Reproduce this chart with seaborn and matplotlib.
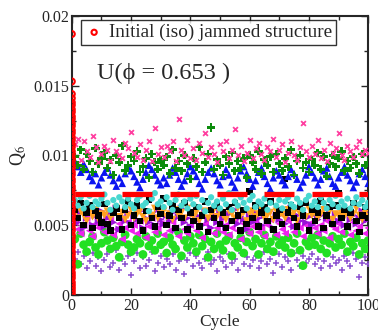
import numpy as np
import seaborn as sns
import matplotlib
matplotlib.use('Agg')
import matplotlib.pyplot as plt
from matplotlib.ticker import MultipleLocator

# Q6 values in units of 1e-4, one per cycle (1..100)
pink_x = [108, 112, 97, 110, 103, 99, 114, 106, 95, 101,
          107, 104, 96, 111, 103, 100, 98, 109, 105, 117,
          102, 99, 108, 97, 104, 110, 96, 120, 101, 106,
          99, 107, 103, 110, 96, 126, 104, 100, 111, 98,
          105, 97, 109, 102, 116, 99, 106, 101, 95, 108,
          103, 110, 98, 104, 119, 100, 107, 96, 102, 111,
          98, 105, 109, 101, 97, 106, 103, 112, 99, 104,
          108, 95, 102, 110, 100, 97, 106, 123, 103, 99,
          107, 101, 111, 98, 104, 96, 109, 102, 105, 116,
          100, 97, 107, 103, 99, 106, 110, 101, 104, 102]
green_p = [99, 93, 104, 90, 101, 96, 88, 105, 94, 98,
           102, 91, 97, 86, 100, 95, 107, 89, 93, 99,
           96, 103, 88, 92, 98, 84, 101, 95, 90, 97,
           93, 99, 87, 104, 91, 96, 89, 100, 94, 83,
           98, 92, 106, 88, 95, 101, 120, 90, 97, 93,
           86, 99, 94, 102, 89, 96, 91, 98, 84, 100,
           95, 90, 103, 87, 97, 93, 99, 88, 101, 94,
           89, 98, 92, 104, 86, 96, 100, 91, 95, 88,
           97, 93, 102, 90, 99, 85, 94, 100, 92, 98,
           103, 89, 96, 91, 99, 94, 87, 101, 93, 95]
blue_up = [96, 92, 88, 94, 90, 85, 82, 87, 79, 84,
           88, 91, 86, 82, 78, 84, 80, 87, 92, 89,
           85, 81, 77, 83, 88, 93, 90, 86, 82, 79,
           84, 80, 86, 91, 88, 83, 78, 82, 87, 92,
           89, 85, 80, 76, 83, 88, 91, 87, 82, 79,
           85, 90, 86, 81, 77, 84, 89, 92, 87, 83,
           78, 82, 88, 91, 85, 80, 76, 84, 89, 86,
           82, 79, 85, 90, 87, 83, 77, 81, 86, 92,
           88, 84, 79, 83, 89, 91, 85, 80, 78, 84,
           88, 92, 86, 82, 77, 81, 87, 90, 85, 80]
cyan_o = [68, 64, 70, 62, 66, 71, 63, 67, 65, 69,
          72, 66, 61, 68, 64, 70, 67, 63, 69, 65,
          62, 68, 71, 64, 66, 60, 69, 73, 65, 67,
          63, 70, 66, 61, 68, 72, 64, 67, 62, 69,
          65, 71, 63, 68, 60, 66, 70, 64, 67, 62,
          69, 65, 73, 61, 67, 64, 70, 66, 62, 68,
          71, 63, 67, 65, 69, 61, 66, 72, 64, 68,
          62, 67, 70, 65, 63, 69, 66, 61, 68, 71,
          64, 67, 63, 70, 66, 62, 68, 65, 71, 63,
          67, 64, 69, 62, 66, 70, 65, 68, 63, 66]
black_s = [61, 55, 66, 50, 59, 64, 48, 60, 57, 52,
           65, 51, 46, 59, 62, 55, 47, 61, 67, 50,
           57, 64, 53, 46, 60, 68, 55, 49, 63, 58,
           69, 50, 57, 64, 48, 61, 55, 66, 47, 59,
           53, 63, 49, 57, 67, 45, 61, 55, 64, 51,
           59, 48, 63, 53, 66, 57, 46, 61, 51, 74,
           55, 64, 49, 59, 63, 53, 67, 47, 57, 61,
           51, 83, 59, 64, 55, 49, 63, 57, 66, 46,
           61, 53, 59, 67, 48, 57, 63, 51, 64, 73,
           55, 61, 49, 59, 66, 53, 45, 57, 63, 55]
orange_v = [58, 55, 60, 57, 53, 59, 56, 61, 54, 58,
            57, 60, 55, 58, 62, 56, 59, 54, 57, 61,
            55, 58, 60, 56, 53, 59, 57, 62, 55, 58,
            60, 56, 58, 54, 61, 57, 59, 55, 62, 58,
            56, 59, 53, 57, 60, 55, 58, 61, 56, 59,
            57, 54, 60, 58, 55, 62, 57, 59, 53, 58,
            60, 56, 58, 61, 55, 57, 59, 54, 60, 57,
            58, 55, 61, 57, 59, 53, 58, 60, 56, 62,
            57, 59, 55, 58, 61, 56, 60, 54, 58, 57,
            59, 56, 60, 55, 58, 62, 57, 54, 59, 56]
violet_r = [56, 52, 59, 48, 55, 61, 50, 57, 53, 60,
            49, 55, 58, 52, 62, 47, 56, 53, 59, 51,
            57, 54, 60, 48, 55, 52, 58, 50, 61, 54,
            51, 57, 53, 59, 47, 56, 62, 52, 55, 49,
            58, 53, 56, 50, 60, 54, 48, 57, 52, 59,
            55, 49, 58, 53, 61, 51, 56, 54, 47, 57,
            52, 59, 55, 50, 57, 53, 60, 48, 56, 54,
            58, 51, 55, 62, 49, 57, 53, 59, 52, 56,
            50, 58, 54, 57, 47, 55, 61, 52, 58, 53,
            56, 50, 59, 54, 57, 51, 55, 60, 53, 58]
magenta_l = [52, 47, 44, 50, 55, 46, 42, 51, 48, 53,
             45, 49, 54, 43, 47, 51, 40, 48, 52, 46,
             50, 44, 53, 47, 41, 49, 55, 45, 48, 51,
             43, 50, 46, 52, 48, 42, 54, 47, 44, 50,
             53, 46, 49, 41, 51, 47, 55, 44, 48, 52,
             45, 50, 43, 48, 53, 46, 40, 51, 47, 44,
             49, 52, 45, 48, 42, 50, 54, 46, 43, 51,
             47, 44, 53, 49, 45, 51, 48, 42, 50, 46,
             52, 48, 44, 50, 46, 53, 41, 49, 47, 51,
             45, 50, 48, 43, 52, 46, 49, 54, 44, 48]
lime_o = [40, 22, 44, 36, 31, 38, 42, 34, 29, 37,
          45, 39, 33, 41, 35, 27, 38, 43, 36, 31,
          34, 40, 37, 29, 42, 35, 39, 32, 44, 36,
          38, 30, 41, 36, 33, 45, 28, 39, 34, 42,
          37, 31, 43, 35, 40, 27, 38, 33, 44, 36,
          32, 39, 42, 28, 37, 34, 41, 30, 38, 45,
          35, 40, 29, 37, 43, 33, 38, 31, 42, 36,
          39, 34, 41, 30, 37, 44, 32, 21, 38, 35,
          41, 36, 43, 33, 39, 30, 37, 42, 34, 40,
          36, 44, 31, 38, 35, 41, 29, 37, 33, 39]
purple_plus = [26, 31, 22, 28, 19, 24, 30, 21, 27, 17,
               25, 29, 20, 23, 32, 18, 26, 22, 28, 14,
               24, 30, 19, 27, 21, 25, 31, 17, 23, 28,
               20, 26, 22, 29, 18, 24, 27, 15, 25, 30,
               21, 28, 23, 19, 26, 31, 22, 25, 17, 27,
               24, 20, 29, 23, 26, 18, 30, 22, 27, 21,
               25, 28, 19, 24, 31, 22, 26, 16, 23, 29,
               20, 27, 24, 18, 30, 25, 21, 28, 23, 26,
               29, 22, 26, 19, 24, 31, 21, 27, 23, 25,
               18, 28, 24, 21, 30, 26, 13, 23, 27, 22]

# red plateau segments (cycle ranges) at Q6 ~ 0.0072
red_start = [1, 17, 33, 49, 65, 81, 97]
red_end = [11, 27, 43, 59, 75, 91, 100]
red_level = 72

# initial (iso) jammed structure, all at cycle 0
init_q6 = [1, 3, 5, 7, 9, 12, 14, 16, 19, 21, 24, 26, 29, 31, 34, 36, 38,
           41, 43, 46, 48, 51, 53, 56, 58, 61, 63, 66, 68, 71, 73, 76, 78,
           81, 83, 86, 88, 91, 93, 96, 98, 101, 103, 106, 108, 111, 113,
           116, 118, 121, 123, 126, 128, 131, 133, 136, 138, 141, 144, 153, 187]

cycles = np.arange(1, 101)
scale = 1e-4

sns.set_style("ticks")
plt.rcParams['font.family'] = ['Liberation Serif', 'DejaVu Serif']
plt.rcParams['mathtext.fontset'] = 'stix'

fig = plt.figure(figsize=(3.78, 3.31), dpi=100)
ax = fig.add_axes([0.19, 0.109, 0.784, 0.843])

series = [
    (purple_plus, '#8a4fd0', '+', 22, 1.1),
    (lime_o, '#22e022', 'o', 40, 0),
    (magenta_l, '#ee22ee', '<', 30, 0),
    (violet_r, '#9a10d8', '>', 30, 0),
    (orange_v, '#ffa020', 'v', 30, 0),
    (black_s, 'black', 's', 22, 0),
    (cyan_o, '#48d8d0', 'o', 20, 0),
    (blue_up, '#0a14f0', '^', 30, 0),
    (green_p, '#0c8c0c', 'P', 34, 0),
    (pink_x, '#ff3fa0', 'x', 12, 1.3),
]
for vals, col, mk, sz, lw in series:
    sns.scatterplot(x=cycles, y=np.array(vals) * scale, ax=ax, color=col,
                    marker=mk, s=sz, linewidth=lw, edgecolor=col if lw else 'none',
                    zorder=3)

ax.hlines([red_level * scale] * len(red_start), red_start, red_end,
          colors='#ff0000', linewidth=3.8, zorder=4)

sns.scatterplot(x=np.zeros(len(init_q6)), y=np.array(init_q6) * scale, ax=ax,
                marker='o', s=18, facecolor='none', edgecolor='#ff0000',
                linewidth=1.5, zorder=5, label='Initial (iso) jammed structure')

ax.set_xlim(0, 100)
ax.set_ylim(0, 0.02)
ax.xaxis.set_major_locator(MultipleLocator(20))
ax.xaxis.set_minor_locator(MultipleLocator(10))
ax.yaxis.set_major_locator(MultipleLocator(0.005))
ax.yaxis.set_minor_locator(MultipleLocator(0.0025))
ax.set_yticks([0, 0.005, 0.01, 0.015, 0.02])
ax.set_yticklabels(['0', '0.005', '0.01', '0.015', '0.02'])
ax.tick_params(which='both', direction='in', top=True, right=True,
               labelsize=11.5, width=1.0, pad=2)
ax.tick_params(which='major', length=5)
ax.tick_params(which='minor', length=3)
for sp in ax.spines.values():
    sp.set_linewidth(1.5)

ax.set_xlabel('Cycle', fontsize=12.5, labelpad=0)
ax.set_ylabel('Q$_6$', fontsize=13, labelpad=4)

ax.text(0.085, 0.775, 'U(ϕ = 0.653 )', transform=ax.transAxes, fontsize=17.5)

leg = ax.legend(loc='upper left', bbox_to_anchor=(0.03, 0.985), fontsize=13.8,
                frameon=True, fancybox=False, borderpad=0.2, handletextpad=0.3,
                handlelength=1.0, borderaxespad=0)
leg.get_frame().set_edgecolor('black')
leg.get_frame().set_linewidth(1.0)
for h in leg.legend_handles:
    h.set_sizes([14])

fig.savefig('out.png', dpi=100)
